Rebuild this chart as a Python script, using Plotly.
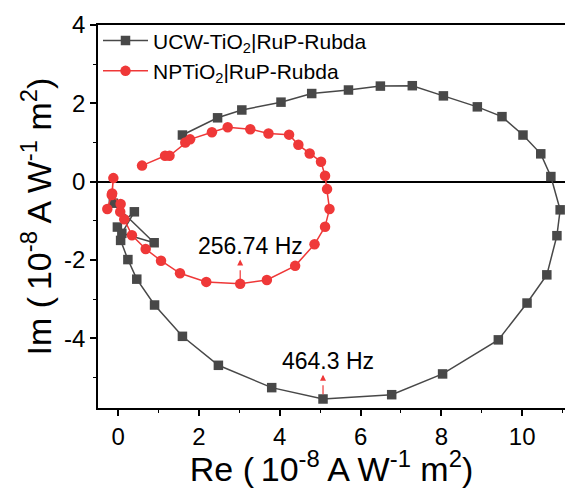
import plotly.graph_objects as go

# UCW-TiO2|RuP-Rubda (gray squares)
ucw_re = [1.59, 2.46, 3.06, 4.03, 4.79, 5.70, 6.49, 7.28, 8.05, 8.89, 9.50, 10.02, 10.46, 10.71,
          10.94, 10.86, 10.61, 10.12, 9.41, 8.03, 6.77, 5.07, 3.80, 2.48, 1.59, 0.90, 0.46, 0.24,
          0.06, -0.02, 0.40, 0.09, 0.89, -0.12]
ucw_im = [1.19, 1.63, 1.83, 2.03, 2.25, 2.34, 2.44, 2.45, 2.19, 1.91, 1.66, 1.19, 0.71, 0.13,
          -0.72, -1.38, -2.38, -3.10, -4.04, -4.91, -5.44, -5.55, -5.26, -4.69, -3.95, -3.15, -2.49, -1.99,
          -1.50, -1.16, -0.77, -1.32, -1.56, -0.55]

# NPTiO2|RuP-Rubda (red circles)
np_re = [0.59, 1.16, 1.27, 1.66, 1.78, 2.32, 2.71, 3.27, 3.72, 4.23, 4.46, 4.74, 5.02, 5.12,
         5.17, 5.23, 5.12, 4.86, 4.38, 3.68, 3.02, 2.18, 1.53, 1.06, 0.68, 0.34, 0.15, 0.05,
         0.06, -0.16, -0.12, -0.15, -0.27]
np_im = [0.41, 0.66, 0.66, 1.00, 1.08, 1.26, 1.39, 1.34, 1.23, 1.20, 0.94, 0.72, 0.51, 0.15,
         -0.19, -0.70, -1.15, -1.60, -2.15, -2.51, -2.61, -2.56, -2.34, -2.02, -1.72, -1.37, -0.96, -0.77,
         -0.57, -0.34, 0.09, -0.30, -0.70]

# annotated frequencies
ann_labels = ["256.74 Hz", "464.3 Hz"]
ann_re = [3.02, 5.07]
ann_im = [-2.61, -5.55]
ann_xshift = [10, 5]

x_ticks = [0, 2, 4, 6, 8, 10]
y_ticks = [-4, -2, 0, 2, 4]

GRAY = "#484848"
RED = "#ef3838"
FONT = "Liberation Sans, Arial, sans-serif"

fig = go.Figure()
fig.add_trace(go.Scatter(
    x=ucw_re, y=ucw_im, mode="lines+markers", name="UCW-TiO<sub>2</sub>|RuP-Rubda",
    line=dict(color=GRAY, width=1.5),
    marker=dict(symbol="square", size=9.5, color=GRAY)))
fig.add_trace(go.Scatter(
    x=np_re, y=np_im, mode="lines+markers", name="NPTiO<sub>2</sub>|RuP-Rubda",
    line=dict(color=RED, width=1.5),
    marker=dict(symbol="circle", size=10.5, color=RED)))

annotations = []
for lab, xr, yi, xs in zip(ann_labels, ann_re, ann_im, ann_xshift):
    fig.add_trace(go.Scatter(
        x=[xr, xr], y=[yi + 0.12, yi + 0.5], mode="lines", showlegend=False,
        line=dict(color=RED, width=1.2, dash="dash"), hoverinfo="skip"))
    annotations.append(dict(
        x=xr, y=yi + 0.62, ax=0, ay=6, xref="x", yref="y", axref="pixel", ayref="pixel",
        showarrow=True, arrowhead=2, arrowsize=1, arrowwidth=1.2, arrowcolor=RED, text=""))
    annotations.append(dict(
        x=xr, y=yi + 0.96, xref="x", yref="y", xshift=xs, text=lab, showarrow=False,
        font=dict(size=23, color="black", family=FONT)))

fig.update_layout(
    width=565, height=488,
    margin=dict(l=98, r=0, t=25, b=80),
    paper_bgcolor="white", plot_bgcolor="white",
    font=dict(family=FONT, color="black"),
    showlegend=True,
    legend=dict(x=0.0, y=1.012, xanchor="left", yanchor="top",
                bgcolor="rgba(0,0,0,0)", font=dict(size=21, family=FONT),
                tracegroupgap=0, itemwidth=45),
    annotations=annotations,
)
fig.update_xaxes(
    range=[-0.5, 11.06], tickvals=x_ticks, ticktext=[str(v) for v in x_ticks],
    showgrid=False, zeroline=False, showline=True, linecolor="black", linewidth=1.5,
    mirror=True, ticks="outside", ticklen=6, tickwidth=1.5, tickcolor="black",
    tickfont=dict(size=24), minor=dict(dtick=1, tick0=0, ticks="outside", ticklen=3, tickcolor="black", tickwidth=1.2),
    title=dict(text="Re (\u200910<sup>-8</sup> A W<sup>-1</sup> m<sup>2</sup>)", font=dict(size=34), standoff=3))
fig.update_yaxes(
    range=[-5.78, 4.0], tickvals=y_ticks, ticktext=[str(v) for v in y_ticks],
    showgrid=False, zeroline=True, zerolinecolor="black", zerolinewidth=1.5,
    showline=True, linecolor="black", linewidth=1.5,
    ticks="outside", ticklen=6, tickwidth=1.5, tickcolor="black",
    tickfont=dict(size=24), minor=dict(dtick=1, tick0=0, ticks="outside", ticklen=3, tickcolor="black", tickwidth=1.2),
    title=dict(text="Im (\u200910<sup>-8</sup> A W<sup>-1</sup> m<sup>2</sup>)", font=dict(size=34), standoff=2))

fig.write_html("out.html", config={"displayModeBar": False},
               post_script="document.body.style.margin='0';")
